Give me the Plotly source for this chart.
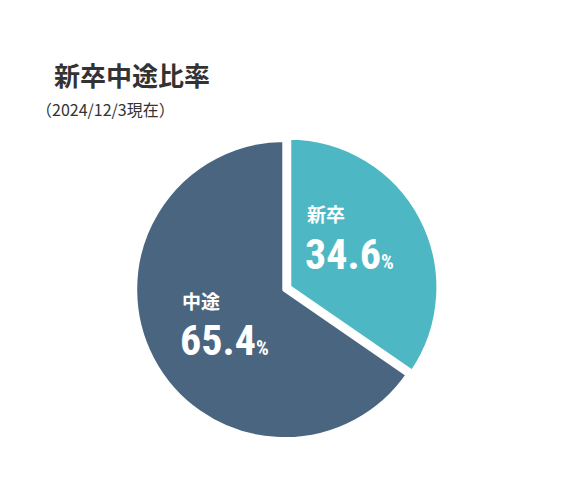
import plotly.graph_objects as go

labels = ["新卒", "中途"]
values = [34.6, 65.4]
colors = ["#4db8c4", "#4a6580"]
label_pos = [(297, 206), (172, 292)]  # pixel top-left of label blocks

W, H = 562, 490
fig = go.Figure(go.Pie(
    labels=labels, values=values, sort=False, direction="clockwise", rotation=0,
    marker=dict(colors=colors, line=dict(color="white", width=5)),
    pull=[0.03, 0], textinfo="none", hoverinfo="label+percent",
    domain=dict(x=[0.214, 0.771], y=[0.110, 0.741]), showlegend=False))

ann = [
    dict(text="<b>新卒中途比率</b>", x=44/W, y=1-66/H, font=dict(size=26, color="#333")),
    dict(text="（2024/12/3現在）", x=26/W, y=1-101/H, font=dict(size=16, color="#333")),
]
for (px, py), lab, v in zip(label_pos, labels, values):
    ann.append(dict(text=f"<b>{lab}</b>", x=px/W, y=1-py/H, font=dict(size=19, color="white")))
    ann.append(dict(text=f"<b>{v:.1f}</b><span style='font-size:20px'><b>%</b></span>",
                    x=(px-2)/W, y=1-(py+40)/H,
                    font=dict(size=42, color="white", family="Roboto Condensed, Roboto, sans-serif")))
for a in ann:
    a.update(xref="paper", yref="paper", xanchor="left", yanchor="middle", showarrow=False)
    a["font"].setdefault("family", "Noto Sans CJK JP")

fig.update_layout(width=W, height=H, margin=dict(l=0, r=0, t=0, b=0),
                  paper_bgcolor="white", plot_bgcolor="white", annotations=ann)
fig.write_html("out.html")
